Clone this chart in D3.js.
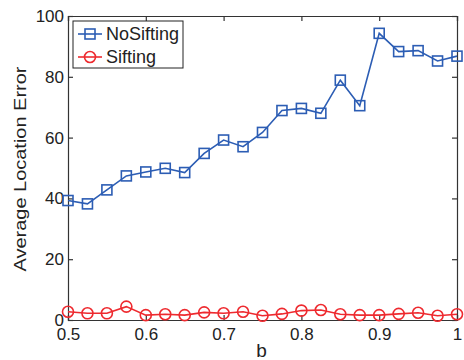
<!DOCTYPE html>
<html>
<head>
<meta charset="utf-8">
<script src="https://cdn.jsdelivr.net/npm/d3@7"></script>
<style>
  body { margin: 0; background: #fff; }
  text { font-family: "Liberation Sans", Arial, sans-serif; fill: #222; }
</style>
</head>
<body>
<div id="chart"></div>
<script>
const bValues = [0.5, 0.525, 0.55, 0.575, 0.6, 0.625, 0.65, 0.675, 0.7, 0.725, 0.75,
  0.775, 0.8, 0.825, 0.85, 0.875, 0.9, 0.925, 0.95, 0.975, 1.0];
const noSifting = [39.3, 38.2, 42.8, 47.4, 48.7, 49.9, 48.5, 54.8, 59.2, 57.0, 61.7,
  68.9, 69.6, 68.0, 78.9, 70.5, 94.3, 88.3, 88.6, 85.2, 86.8];
const sifting = [2.7, 2.2, 2.2, 4.4, 1.6, 1.9, 1.6, 2.5, 2.2, 2.7, 1.4,
  2.0, 3.1, 3.3, 1.9, 1.6, 1.6, 2.0, 2.4, 1.4, 1.9];
const xTicks = [0.5, 0.6, 0.7, 0.8, 0.9, 1];
const yTicks = [0, 20, 40, 60, 80, 100];

const width = 464, height = 360;
const margin = { top: 16, right: 7, bottom: 40, left: 68 };
const innerWidth = width - margin.left - margin.right;
const innerHeight = height - margin.top - margin.bottom;

const blue = "#2c5db4";
const red = "#ee2a2f";

const svg = d3.select("#chart").append("svg")
  .attr("width", width).attr("height", height);
const g = svg.append("g").attr("transform", `translate(${margin.left},${margin.top})`);

const x = d3.scaleLinear().domain([0.5, 1]).range([0, innerWidth]);
const y = d3.scaleLinear().domain([0, 100]).range([innerHeight, 0]);

// axes (matlab style box with inward ticks)
const fmt = (d) => d3.format("")(d);
g.append("g").attr("transform", `translate(0,${innerHeight})`)
  .call(d3.axisBottom(x).tickValues(xTicks).tickSize(-5).tickPadding(8).tickFormat(fmt))
  .call((a) => a.selectAll("text").style("font-size", "17px"));
g.append("g")
  .call(d3.axisTop(x).tickValues(xTicks).tickSize(-5))
  .call((a) => a.selectAll("text").remove());
g.append("g")
  .call(d3.axisLeft(y).tickValues(yTicks).tickSize(-5).tickPadding(4))
  .call((a) => a.selectAll("text").style("font-size", "17px"));
g.append("g").attr("transform", `translate(${innerWidth},0)`)
  .call(d3.axisRight(y).tickValues(yTicks).tickSize(-5))
  .call((a) => a.selectAll("text").remove());
g.selectAll(".domain, .tick line").attr("stroke", "#333").attr("stroke-width", 1.2);
g.selectAll(".tick text").attr("fill", "#222");

// labels
svg.append("text")
  .attr("x", margin.left + innerWidth / 2 - 1).attr("y", 357)
  .attr("text-anchor", "middle").style("font-size", "19px").text("b");
svg.append("text")
  .attr("transform", `translate(26,169) rotate(-90)`)
  .attr("text-anchor", "middle").style("font-size", "17px")
  .attr("textLength", 205).attr("lengthAdjust", "spacingAndGlyphs")
  .text("Average Location Error");

const pts = (vals) => bValues.map((b, i) => ({ b, v: vals[i] }));
const line = d3.line().x((d) => x(d.b)).y((d) => y(d.v));

// NoSifting
const blueData = pts(noSifting);
g.append("path").datum(blueData).attr("fill", "none")
  .attr("stroke", blue).attr("stroke-width", 1.6).attr("d", line);
g.selectAll(".sq").data(blueData).enter().append("rect")
  .attr("x", (d) => x(d.b) - 5).attr("y", (d) => y(d.v) - 5)
  .attr("width", 10).attr("height", 10)
  .attr("fill", "none").attr("stroke", blue).attr("stroke-width", 1.6);

// Sifting
const redData = pts(sifting);
g.append("path").datum(redData).attr("fill", "none")
  .attr("stroke", red).attr("stroke-width", 1.6).attr("d", line);
g.selectAll(".ci").data(redData).enter().append("circle")
  .attr("cx", (d) => x(d.b)).attr("cy", (d) => y(d.v)).attr("r", 5.5)
  .attr("fill", "none").attr("stroke", red).attr("stroke-width", 1.6);

// legend
const legend = svg.append("g").attr("transform", "translate(73,21)");
legend.append("rect").attr("width", 110).attr("height", 47)
  .attr("fill", "#fff").attr("stroke", "#222").attr("stroke-width", 1);
const items = [{ name: "NoSifting", color: blue, shape: "square" },
               { name: "Sifting", color: red, shape: "circle" }];
items.forEach((it, i) => {
  const cy = 13 + i * 23;
  const row = legend.append("g").attr("transform", `translate(0,${cy})`);
  row.append("line").attr("x1", 5).attr("x2", 29).attr("y1", 0).attr("y2", 0)
    .attr("stroke", it.color).attr("stroke-width", 1.6);
  if (it.shape === "square") {
    row.append("rect").attr("x", 12).attr("y", -5).attr("width", 10).attr("height", 10)
      .attr("fill", "none").attr("stroke", it.color).attr("stroke-width", 1.6);
  } else {
    row.append("circle").attr("cx", 17).attr("cy", 0).attr("r", 5.5)
      .attr("fill", "none").attr("stroke", it.color).attr("stroke-width", 1.6);
  }
  row.append("text").attr("x", 33).attr("y", 6).style("font-size", "18px").text(it.name);
});
</script>
</body>
</html>
